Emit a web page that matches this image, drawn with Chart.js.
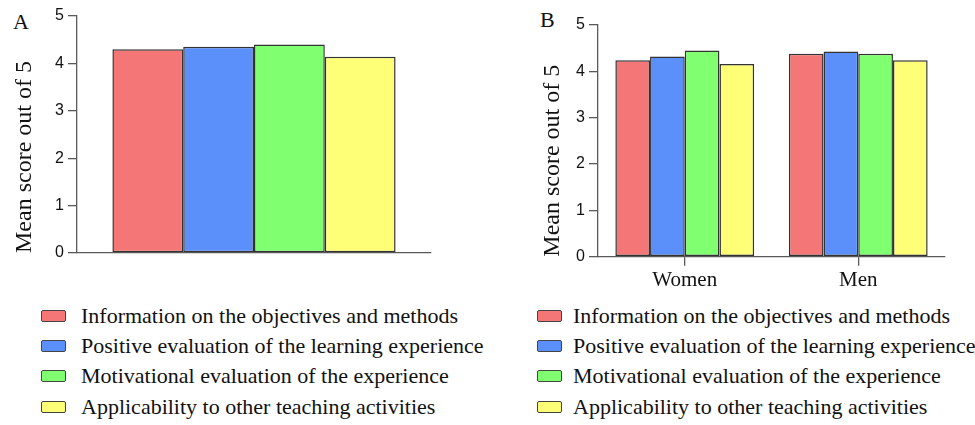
<!DOCTYPE html>
<html>
<head>
<meta charset="utf-8">
<script src="https://cdn.jsdelivr.net/npm/chart.js@4.4.1/dist/chart.umd.min.js"></script>
<style>
	body { margin: 0; background: #fff; width: 975px; height: 425px; position: relative; overflow: hidden; }
	canvas { position: absolute; top: 0; }
	.panel { position: absolute; font: 22px "Liberation Serif", serif; line-height: 22px; color: #111; }
	.legend { position: absolute; top: 301px; font: 22px "Liberation Serif", serif; color: #111; }
	.legend div { height: 30.2px; line-height: 30.2px; white-space: nowrap; display: flex; align-items: center; }
	.legend span.box { display: inline-block; width: 23px; height: 10px; border: 1.5px solid #444; border-radius: 2px; }
</style>
</head>
<body>
<div class="panel" style="left:13px; top:11px;">A</div>
<div class="panel" style="left:540px; top:9px;">B</div>
<canvas id="chartA" width="440" height="290" style="left:0; width:440px; height:290px;"></canvas>
<canvas id="chartB" width="455" height="290" style="left:520px; width:455px; height:290px;"></canvas>
<div class="legend" id="legendA" style="left:41px;"></div>
<div class="legend" id="legendB" style="left:537px;"></div>
<script>
const seriesLabels = [
	'Information on the objectives and methods',
	'Positive evaluation of the learning experience',
	'Motivational evaluation of the experience',
	'Applicability to other teaching activities'
];
const seriesColors = ['#f47676', '#5b8ff9', '#80ff70', '#ffff77'];

// panel A: overall means, one value per series
const overallScores = [4.30, 4.35, 4.40, 4.14];

// panel B: by gender
const genderLabels = ['Women', 'Men'];
const womenScores = [4.24, 4.32, 4.45, 4.16];
const menScores = [4.38, 4.43, 4.38, 4.24];

const yTicks = [0, 1, 2, 3, 4, 5];
const yTitle = 'Mean score out of 5';

const axisColor = '#5a5a5a';

function makeDatasets(valuesPerSeries) {
	return seriesLabels.map((label, i) => ({
		label: label,
		data: valuesPerSeries[i],
		backgroundColor: seriesColors[i],
		borderColor: '#333',
		borderWidth: 1.5,
		borderSkipped: false,
		categoryPercentage: 0.8,
		barPercentage: 1.0,
	}));
}

function makeOptions(cfg) {
	return {
		responsive: false,
		animation: false,
		layout: { padding: { top: cfg.top, right: cfg.right, left: 0, bottom: 0 } },
		plugins: { legend: { display: false }, title: { display: false }, tooltip: { enabled: false } },
		scales: {
			y: {
				min: 0,
				max: 5,
				afterFit: (scale) => { scale.width = cfg.yWidth; },
				afterBuildTicks: (scale) => { scale.ticks = yTicks.map(v => ({ value: v })); },
				ticks: {
					color: '#111',
					padding: 4,
					font: { family: 'Liberation Sans', size: 16 },
				},
				grid: { drawOnChartArea: false, color: axisColor, tickLength: 9, lineWidth: 1.3 },
				border: { color: axisColor, width: 1.3 },
				title: {
					display: true,
					text: yTitle,
					align: 'start',
					color: '#111',
					font: { family: 'Liberation Serif', size: 24 },
					padding: { top: cfg.titlePad, bottom: 0 },
				},
			},
			x: {
				afterFit: (scale) => { scale.height = cfg.xHeight; },
				ticks: {
					display: cfg.xLabels,
					color: '#111',
					padding: 2,
					font: { family: 'Liberation Serif', size: 21 },
				},
				grid: { drawOnChartArea: false, offset: false, drawTicks: cfg.xLabels, color: axisColor, tickLength: 9, lineWidth: 1.3 },
				border: { color: axisColor, width: 1.3 },
			}
		}
	};
}

new Chart(document.getElementById('chartA'), {
	type: 'bar',
	data: {
		labels: [''],
		datasets: makeDatasets(overallScores.map(v => [v])),
	},
	options: makeOptions({ top: 16, right: 9, yWidth: 77, xHeight: 37, titlePad: 10.6, xLabels: false }),
});

new Chart(document.getElementById('chartB'), {
	type: 'bar',
	data: {
		labels: genderLabels,
		datasets: makeDatasets(womenScores.map((w, i) => [w, menScores[i]])),
	},
	options: makeOptions({ top: 25, right: 30, yWidth: 78, xHeight: 33.3, titlePad: 18, xLabels: true }),
});

function buildLegend(el, gap) {
	seriesLabels.forEach((label, i) => {
		const row = document.createElement('div');
		const box = document.createElement('span');
		box.className = 'box';
		box.style.background = seriesColors[i];
		box.style.marginRight = gap + 'px';
		const txt = document.createElement('span');
		txt.textContent = label;
		row.appendChild(box);
		row.appendChild(txt);
		el.appendChild(row);
	});
}
buildLegend(document.getElementById('legendA'), 15);
buildLegend(document.getElementById('legendB'), 11);
</script>
</body>
</html>
